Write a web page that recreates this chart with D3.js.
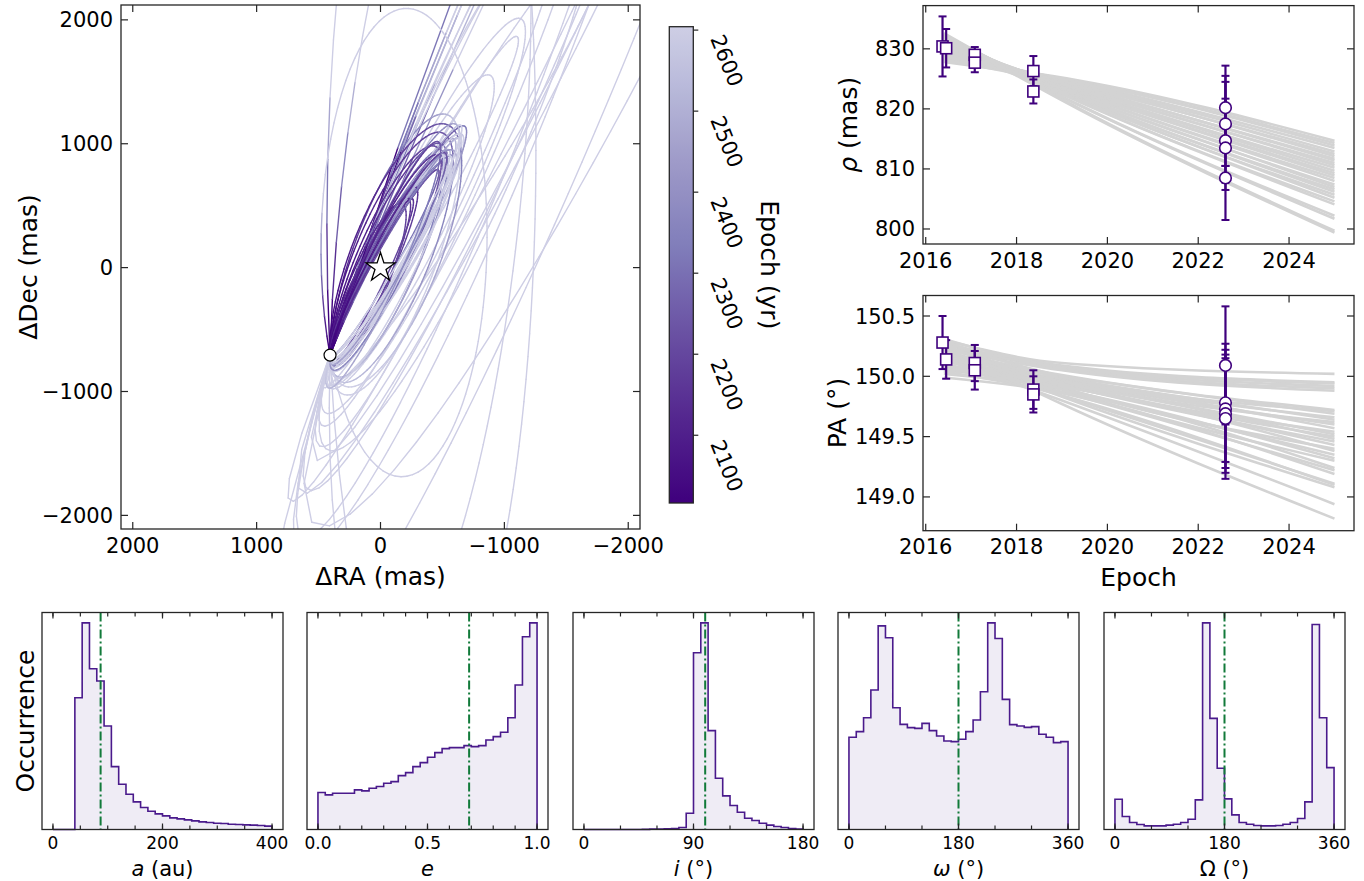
<!DOCTYPE html>
<html><head><meta charset="utf-8">
<script src="https://cdn.jsdelivr.net/npm/d3@7"></script>
<style>
html,body{margin:0;padding:0;background:#fff;}
svg text{font-family:"DejaVu Sans",sans-serif;fill:#000;}
</style></head><body>
<svg id="fig" width="1364" height="881" xmlns="http://www.w3.org/2000/svg"></svg>
<script>
// ================= DATA =================
const startEpoch = 2016.4;
const companionSep = 815;     // mas at start epoch
const companionPA = 150.0;    // deg at start epoch

// posterior orbit draws (Keplerian elements) + period in years
const orbitEcc = [0.70,0.80,0.65,0.85,0.75,0.60,0.80,0.55,0.70,0.80, 0.50,0.50,0.30, 0.25,0.30,0.15,0.75, 0.45,0.55,0.30,0.55,0.15,0.25,0.65, 0.30,0.25,0.35,0.20, 0.20,0.12,0.25,0.18, 0.10,0.20,0.25,0.15,0.30,0.28,0.12,0.22,0.22,0.28,0.30,0.18,0.25,0.08];
const orbitInc = [96,95,96,97,94,97,95,97,96,96, 100,100,110, 98,97,100,96, 99,98,99,95,97,106,99, 100,97,102,99, 106,104,108,103, 96,97,97,99,98,96,100,99,101,100,97,98,95,98];
const orbitArgPeri = [55,50,60,58,52,48,66,45,62,40, 75,75,70, 235,232,240,236, 58,62,52,57,50,63,60, 235,225,230,240, 60,58,62,66, 55,50,58,60,45,52,62,56,48,65,54,58,40,70];
const orbitLAN = [158,157,160,159,156,158,161,157,160,158, 180,175,180, 332,330,334,331, 154,155,151,152,150,160,158, 156,154,158,155, 158,157,159,156, 150,151,149,153,151,152,154,150,150,155,151,152,150,156];
const orbitPeriod = [15000,25000,12000,45000,20000,10000,30000,9000,15000,25000, 15000,12000,8000, 1200,2000,1000,20000, 6000,12000,1400,10000,900,1500,18000, 250,280,300,260, 600,550,700,650, 450,1200,900,1500,800,1700,420,2000,1000,1400,2500,500,1300,588];

const raTicks = [2000, 1000, 0, -1000, -2000];
const decTicks = [-2000, -1000, 0, 1000, 2000];
const cbarDomain = [2016.4, 2604.2];
const cbarTicks = [2100, 2200, 2300, 2400, 2500, 2600];

// relative astrometry
const sqEpoch = [2016.37, 2016.45, 2017.08, 2017.08, 2018.37, 2018.37];
const sqRho = [830.4, 830.1, 829.0, 827.7, 826.3, 822.9];
const sqRhoErr = [5.0, 3.2, 1.3, 1.6, 2.5, 2.0];
const sqPA = [150.28, 150.14, 150.11, 150.05, 149.89, 149.85];
const sqPAErr = [0.22, 0.16, 0.15, 0.16, 0.16, 0.15];
const circEpoch = [2022.6, 2022.6, 2022.6, 2022.6, 2022.6];
const circRho = [820.2, 817.5, 814.7, 813.5, 808.5];
const circRhoErr = [7.0, 7.0, 7.0, 12.0, 2.0];
const circPA = [150.09, 149.78, 149.73, 149.69, 149.65];
const circPAErr = [0.49, 0.49, 0.49, 0.49, 0.50];

// model tracks (separation / PA at three epochs per orbit)
const rhoModelEpochs = [2016.4, 2019.4, 2025.0];
const rhoModelStart = [828.0,828.4,827.8,829.0,828.6,829.5,828.2,830.0,829.2,830.4,828.9,830.8,829.7,831.0,830.2,831.4,830.6,831.6,829.9,831.8,831.2,832.0,830.9,832.2,831.5,832.4,831.9,832.6,832.3];
const rhoModelMid = [824.7,824.5,824.4,824.3,824.0,823.9,823.7,823.6,823.5,823.3,823.2,823.1,822.9,822.8,822.6,822.5,822.3,822.1,821.9,821.8,821.7,821.5,821.4,821.2,821.1,820.6,820.5,820.0,819.8];
const rhoModelEnd = [814.7,814.3,813.9,813.5,812.9,812.5,812.1,811.7,811.4,811.0,810.6,810.2,809.7,809.3,808.9,808.5,808.0,807.4,807.0,806.6,806.2,805.7,805.2,804.6,804.1,802.2,801.7,799.7,799.4];
const paModelEpochs = [2016.4, 2019.0, 2025.0];
const paModelStart = [150.30,150.26,150.31,150.24,150.28,150.22,150.20,150.27,150.15,150.23,150.12,150.29,150.18,150.08,150.25,150.14,150.21,150.05,150.19,150.10,150.26,150.02,150.16,150.07,150.22,149.99,150.13,150.04,150.17,150.09,150.20,150.15,150.24];
const paModelMid = [150.11,150.09,150.08,150.07,150.06,150.05,150.01,150.00,150.00,149.99,149.98,149.98,149.97,149.96,149.95,149.95,149.94,149.93,149.93,149.92,149.91,149.91,149.90,149.89,149.89,149.87,149.87,149.86,149.84,149.84,149.83,149.80,149.77];
const paModelEnd = [150.02,149.95,149.94,149.92,149.90,149.88,149.72,149.71,149.69,149.66,149.64,149.62,149.60,149.57,149.54,149.52,149.50,149.48,149.46,149.43,149.40,149.38,149.35,149.32,149.30,149.24,149.22,149.19,149.11,149.10,149.08,148.94,148.82];
const timeTicks = [2016, 2018, 2020, 2022, 2024];
const rhoTicks = [800, 810, 820, 830];
const paTicks = [149.0, 149.5, 150.0, 150.5];

// posterior histograms (30 bins each, relative counts)
const histA = [0,0,0,396,621,483,446,311,189,136,106,83,66,55,47,41,35,32,29,26,23,21,19,18,16,15,14,13,12,10];
const histE = [111,104,109,109,109,119,116,124,129,139,144,162,171,189,201,217,231,243,246,246,252,249,252,269,279,292,336,434,579,621];
const histI = [0,0,0,0,0,0,0,0,0.5,1,1,2,3,6,49,531,621,297,154,101,72,52,34,27,19,13,9,6,3,1];
const histW = [277,294,336,419,612,576,366,316,306,304,319,297,281,266,264,271,294,329,414,621,574,391,315,311,307,309,286,277,261,264];
const histO = [91,39,21,15,11,11,11,13,16,21,31,89,621,334,184,92,44,21,16,12,11,11,12,16,21,33,83,616,336,186];
const histBinRange = [[0,400],[0,1],[0,180],[0,360],[0,360]];
const histRefValue = [87, 0.69, 99.6, 180, 180];
const histMajorTicks = [[0,200,400],[0,0.5,1.0],[0,90,180],[0,180,360],[0,180,360]];
const histMinorStep = [50, 0.1, 30, 60, 60];

// ================= DRAWING =================
const svg = d3.select("#fig");
const SPINE = "#262626";
const PURPLE = "#3f007d";
const purplesStops = ['#fcfbfd','#efedf5','#dadaeb','#bcbddc','#9e9ac8','#807dba','#6a51a3','#54278f','#3f007d'];
const purples = d3.scaleLinear().domain(d3.range(9).map(k=>k/8)).range(purplesStops).interpolate(d3.interpolateRgb).clamp(true);
const cmapNorm = d3.scaleLinear().domain(cbarDomain).range([0,1]).clamp(true);
const epochColor = t => purples(1 - 0.7*cmapNorm(t));

function box(x0,x1,y0,y1){
  svg.append("rect").attr("x",x0).attr("y",y0).attr("width",x1-x0).attr("height",y1-y0)
    .attr("fill","none").attr("stroke",SPINE).attr("stroke-width",1.3);
}
function ticksX(xs, vals, y0, y1, len, labelFmt, fs, baseOff){
  vals.forEach(v=>{
    const X = xs(v);
    svg.append("line").attr("x1",X).attr("x2",X).attr("y1",y1).attr("y2",y1-len).attr("stroke",SPINE).attr("stroke-width",1.2);
    svg.append("line").attr("x1",X).attr("x2",X).attr("y1",y0).attr("y2",y0+len).attr("stroke",SPINE).attr("stroke-width",1.2);
    if (labelFmt) svg.append("text").attr("x",X).attr("y",y1+baseOff).attr("text-anchor","middle")
      .attr("font-size",fs).text(labelFmt(v));
  });
}
function ticksY(ys, vals, x0, x1, len, labelFmt, fs){
  vals.forEach(v=>{
    const Y = ys(v);
    svg.append("line").attr("x1",x0).attr("x2",x0+len).attr("y1",Y).attr("y2",Y).attr("stroke",SPINE).attr("stroke-width",1.2);
    svg.append("line").attr("x1",x1).attr("x2",x1-len).attr("y1",Y).attr("y2",Y).attr("stroke",SPINE).attr("stroke-width",1.2);
    if (labelFmt) svg.append("text").attr("x",x0-8).attr("y",Y+7.5).attr("text-anchor","end")
      .attr("font-size",fs).text(labelFmt(v));
  });
}
const minus = s => String(s).replace("-", "\u2212");

// ---------- orbit panel ----------
const OB = {x0:121, x1:640, y0:5, y1:529};
const xRA = d3.scaleLinear().domain([2095,-2095]).range([OB.x0, OB.x1]);
const yDec = d3.scaleLinear().domain([-2110,2120]).range([OB.y1, OB.y0]);
svg.append("clipPath").attr("id","obclip").append("rect")
  .attr("x",OB.x0).attr("y",OB.y0).attr("width",OB.x1-OB.x0).attr("height",OB.y1-OB.y0);
const gOrb = svg.append("g").attr("clip-path","url(#obclip)");

const RA0 = companionSep*Math.sin(companionPA*Math.PI/180);
const DEC0 = companionSep*Math.cos(companionPA*Math.PI/180);
function solveKepler(M, e){
  M = Math.atan2(Math.sin(M), Math.cos(M));
  let E = M + 0.85*e*(Math.sin(M) >= 0 ? 1 : -1);
  for (let k=0;k<60;k++){
    const f = E - e*Math.sin(E) - M;
    E -= f/(1 - e*Math.cos(E));
  }
  return E;
}
const NPTS = 100;
function orbitTrack(e, incDeg, wDeg, OmDeg, P){
  const I = incDeg*Math.PI/180, w = wDeg*Math.PI/180, O = OmDeg*Math.PI/180;
  const p = RA0*Math.sin(O) + DEC0*Math.cos(O);
  const q = RA0*Math.cos(O) - DEC0*Math.sin(O);
  const rs = q/Math.cos(I);
  const r0 = Math.hypot(p, rs);
  const th0 = Math.atan2(rs, p);
  let nu0 = th0 - w; nu0 = Math.atan2(Math.sin(nu0), Math.cos(nu0));
  const a = r0*(1 + e*Math.cos(nu0))/(1 - e*e);
  const E0 = 2*Math.atan(Math.sqrt((1-e)/(1+e))*Math.tan(nu0/2));
  const M0 = E0 - e*Math.sin(E0);
  const pts = [];
  for (let k=0;k<NPTS;k++){
    const t = startEpoch + P*k/(NPTS-1);
    const E = solveKepler(M0 + 2*Math.PI*k/(NPTS-1), e);
    const nu = 2*Math.atan2(Math.sqrt(1+e)*Math.sin(E/2), Math.sqrt(1-e)*Math.cos(E/2));
    const r = a*(1 - e*Math.cos(E));
    const th = w + nu;
    pts.push({t,
      ra: r*(Math.cos(th)*Math.sin(O) + Math.sin(th)*Math.cos(O)*Math.cos(I)),
      dec: r*(Math.cos(th)*Math.cos(O) - Math.sin(th)*Math.sin(O)*Math.cos(I))});
  }
  return pts;
}
orbitEcc.forEach((e,i)=>{
  const pts = orbitTrack(e, orbitInc[i], orbitArgPeri[i], orbitLAN[i], orbitPeriod[i]);
  for (let k=0;k<pts.length-1;k++){
    const A = pts[k], B = pts[k+1];
    gOrb.append("line").attr("x1",xRA(A.ra)).attr("y1",yDec(A.dec)).attr("x2",xRA(B.ra)).attr("y2",yDec(B.dec))
      .attr("stroke",epochColor(A.t)).attr("stroke-width",1.4).attr("stroke-linecap","round");
  }
});
// star & companion
const star = d3.symbol().type(d3.symbolStar).size(260);
svg.append("path").attr("d",star).attr("transform",`translate(${xRA(0)},${yDec(0)})`)
  .attr("fill","#fff").attr("stroke","#000").attr("stroke-width",1.3);
svg.append("circle").attr("cx",xRA(RA0)).attr("cy",yDec(DEC0)).attr("r",6)
  .attr("fill","#fff").attr("stroke","#000").attr("stroke-width",1.2);
box(OB.x0,OB.x1,OB.y0,OB.y1);
ticksX(xRA, raTicks, OB.y0, OB.y1, 7, v=>minus(v), 21, 23.5);
ticksY(yDec, decTicks, OB.x0, OB.x1, 7, v=>minus(v), 21);
svg.append("text").attr("x",(OB.x0+OB.x1)/2).attr("y",585).attr("text-anchor","middle").attr("font-size",25).text("\u0394RA (mas)");
svg.append("text").attr("transform",`translate(37,${(OB.y0+OB.y1)/2}) rotate(-90)`).attr("text-anchor","middle").attr("font-size",25).text("\u0394Dec (mas)");

// ---------- colorbar ----------
const CB = {x0:669.3, x1:693.3, y0:26.7, y1:503};
const grad = svg.append("defs").append("linearGradient").attr("id","cbgrad").attr("x1",0).attr("y1",1).attr("x2",0).attr("y2",0);
d3.range(0,1.0001,0.02).forEach(f=>{
  grad.append("stop").attr("offset",f).attr("stop-color",epochColor(cbarDomain[0]+f*(cbarDomain[1]-cbarDomain[0])));
});
svg.append("rect").attr("x",CB.x0).attr("y",CB.y0).attr("width",CB.x1-CB.x0).attr("height",CB.y1-CB.y0)
  .attr("fill","url(#cbgrad)").attr("stroke",SPINE).attr("stroke-width",1.3);
const yCB = d3.scaleLinear().domain(cbarDomain).range([CB.y1, CB.y0]);
cbarTicks.forEach(v=>{
  const Y = yCB(v);
  svg.append("line").attr("x1",CB.x1).attr("x2",CB.x1+5).attr("y1",Y).attr("y2",Y).attr("stroke",SPINE).attr("stroke-width",1.2);
  svg.append("text").attr("transform",`translate(710,${Y+8.5}) rotate(68)`).attr("font-size",21).text(v);
});
svg.append("text").attr("transform",`translate(761,${(CB.y0+CB.y1)/2}) rotate(90)`).attr("text-anchor","middle").attr("font-size",25).text("Epoch (yr)");

// ---------- separation & PA panels ----------
const RP = {x0:923, x1:1354, y0:5.6, y1:244};
const PP = {x0:923, x1:1354, y0:295.5, y1:530.7};
const xT = d3.scaleLinear().domain([2015.94, 2025.43]).range([RP.x0, RP.x1]);
const yRho = d3.scaleLinear().domain([797.5, 837.2]).range([RP.y1, RP.y0]);
const yPA = d3.scaleLinear().domain([148.72, 150.67]).range([PP.y1, PP.y0]);

function modelLines(ys, epochs, s, m, e, P){
  svg.append("clipPath").attr("id","cl"+P.y0).append("rect").attr("x",P.x0).attr("y",P.y0).attr("width",P.x1-P.x0).attr("height",P.y1-P.y0);
  const g = svg.append("g").attr("clip-path",`url(#cl${P.y0})`);
  const line = d3.line().x(d=>xT(d[0])).y(d=>ys(d[1])).curve(d3.curveMonotoneX);
  s.forEach((v,i)=>{
    g.append("path").attr("d", line([[epochs[0],v],[epochs[1],m[i]],[epochs[2],e[i]]]))
      .attr("fill","none").attr("stroke","#d3d3d3").attr("stroke-width",2.6);
  });
}
function errPoints(ys, ep, val, err, shape){
  val.forEach((v,i)=>{
    const X = xT(ep[i]);
    svg.append("line").attr("x1",X).attr("x2",X).attr("y1",ys(v-err[i])).attr("y2",ys(v+err[i])).attr("stroke",PURPLE).attr("stroke-width",2.2);
    [v-err[i], v+err[i]].forEach(c=>svg.append("line").attr("x1",X-4).attr("x2",X+4).attr("y1",ys(c)).attr("y2",ys(c)).attr("stroke",PURPLE).attr("stroke-width",2));
  });
  val.forEach((v,i)=>{
    const X = xT(ep[i]), Y = ys(v);
    if (shape==="sq") svg.append("rect").attr("x",X-5.5).attr("y",Y-5.5).attr("width",11).attr("height",11).attr("fill","#fff").attr("stroke",PURPLE).attr("stroke-width",1.6);
    else svg.append("circle").attr("cx",X).attr("cy",Y).attr("r",5.8).attr("fill","#fff").attr("stroke",PURPLE).attr("stroke-width",1.6);
  });
}
modelLines(yRho, rhoModelEpochs, rhoModelStart, rhoModelMid, rhoModelEnd, RP);
errPoints(yRho, sqEpoch, sqRho, sqRhoErr, "sq");
errPoints(yRho, circEpoch, circRho, circRhoErr, "ci");
box(RP.x0,RP.x1,RP.y0,RP.y1);
ticksX(xT, timeTicks, RP.y0, RP.y1, 7, v=>v, 21, 23.5);
ticksY(yRho, rhoTicks, RP.x0, RP.x1, 7, v=>v, 21);
const rhoLab = svg.append("text").attr("transform",`translate(857,${(RP.y0+RP.y1)/2}) rotate(-90)`).attr("text-anchor","middle").attr("font-size",25);
rhoLab.append("tspan").attr("font-style","italic").text("\u03c1");
rhoLab.append("tspan").text(" (mas)");

modelLines(yPA, paModelEpochs, paModelStart, paModelMid, paModelEnd, PP);
errPoints(yPA, sqEpoch, sqPA, sqPAErr, "sq");
errPoints(yPA, circEpoch, circPA, circPAErr, "ci");
box(PP.x0,PP.x1,PP.y0,PP.y1);
ticksX(xT, timeTicks, PP.y0, PP.y1, 7, v=>v, 21, 23.5);
ticksY(yPA, paTicks, PP.x0, PP.x1, 7, v=>v.toFixed(1), 21);
svg.append("text").attr("transform",`translate(846,${(PP.y0+PP.y1)/2}) rotate(-90)`).attr("text-anchor","middle").attr("font-size",25).text("PA (\u00b0)");
svg.append("text").attr("x",(PP.x0+PP.x1)/2).attr("y",586).attr("text-anchor","middle").attr("font-size",25).text("Epoch");

// ---------- histograms ----------
const HY0 = 612.5, HY1 = 829.5, HW = 241;
const histX0 = [42, 307, 573, 838, 1104];
const histVals = [histA, histE, histI, histW, histO];
const histFmt = [v=>v, v=>v.toFixed(1), v=>v, v=>v, v=>v];
const histLabels = [
  [["a","italic"],[" (au)","normal"]],
  [["e","italic"]],
  [["i","italic"],[" (\u00b0)","normal"]],
  [["\u03c9","italic"],[" (\u00b0)","normal"]],
  [["\u03a9","normal"],[" (\u00b0)","normal"]]
];
histVals.forEach((vals, h)=>{
  const [lo, hi] = histBinRange[h];
  const span = hi - lo;
  const x0 = histX0[h];
  const xs = d3.scaleLinear().domain([lo - 0.05*span, hi + 0.05*span]).range([x0, x0+HW]);
  const ys = d3.scaleLinear().domain([0, d3.max(vals)*1.05]).range([HY1, HY0]);
  const n = vals.length, bw = span/n;
  let d = `M${xs(lo)},${ys(0)}`;
  vals.forEach((v,k)=>{ d += `L${xs(lo+k*bw)},${ys(v)}L${xs(lo+(k+1)*bw)},${ys(v)}`; });
  d += `L${xs(hi)},${ys(0)}`;
  svg.append("path").attr("d", d+"Z").attr("fill","#efecf5").attr("stroke","none");
  svg.append("path").attr("d", d).attr("fill","none").attr("stroke","#4a1a8c").attr("stroke-width",1.6);
  const gx = xs(histRefValue[h]);
  svg.append("line").attr("x1",gx).attr("x2",gx).attr("y1",HY0).attr("y2",HY1)
    .attr("stroke","#127a3a").attr("stroke-width",2).attr("stroke-dasharray","9,3,2,3");
  box(x0, x0+HW, HY0, HY1);
  const minors = d3.range(lo, hi + histMinorStep[h]*0.5, histMinorStep[h]);
  ticksX(xs, minors, HY0, HY1, 4, null, 0, 0);
  ticksX(xs, histMajorTicks[h], HY0, HY1, 6, histFmt[h], 17, 19.5);
  const t = svg.append("text").attr("x", x0+HW/2).attr("y", 876).attr("text-anchor","middle").attr("font-size",21);
  histLabels[h].forEach(([s,st])=>t.append("tspan").attr("font-style",st).text(s));
});
svg.append("text").attr("transform",`translate(34,${(HY0+HY1)/2}) rotate(-90)`).attr("text-anchor","middle").attr("font-size",25).text("Occurrence");
</script>
</body></html>
